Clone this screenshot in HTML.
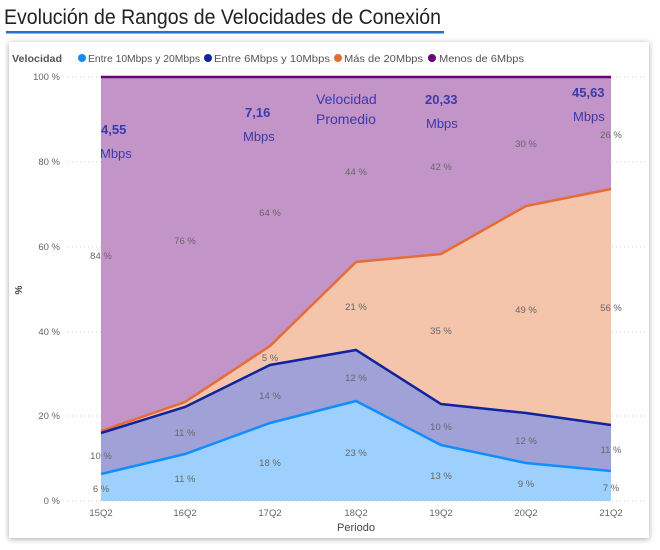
<!DOCTYPE html>
<html><head><meta charset="utf-8"><style>
body{margin:0;width:660px;height:545px;background:#fff;font-family:"Liberation Sans",sans-serif;overflow:hidden}
</style></head><body>
<svg width="660" height="545" xmlns="http://www.w3.org/2000/svg" font-family="Liberation Sans, sans-serif">
<defs><filter id="sh" x="-5%" y="-5%" width="110%" height="110%"><feDropShadow dx="0" dy="1" stdDeviation="3" flood-color="#000" flood-opacity="0.35"/></filter></defs>
<text x="4" y="24" font-size="21" fill="#222" textLength="437" lengthAdjust="spacingAndGlyphs">Evolución de Rangos de Velocidades de Conexión</text>
<rect x="6" y="31" width="438" height="2.5" fill="#2a6fc9"/>
<rect x="9" y="42" width="640" height="496" fill="#fff" filter="url(#sh)"/>
<g font-size="10" fill="#555">
<text x="12" y="62" font-weight="bold" textLength="50" lengthAdjust="spacingAndGlyphs">Velocidad</text>
<circle cx="82" cy="58" r="4" fill="#118dff"/><text x="88" y="62" textLength="112" lengthAdjust="spacingAndGlyphs">Entre 10Mbps y 20Mbps</text>
<circle cx="208" cy="58" r="4" fill="#12239e"/><text x="214" y="62" textLength="116" lengthAdjust="spacingAndGlyphs">Entre 6Mbps y 10Mbps</text>
<circle cx="338" cy="58" r="4" fill="#e66c37"/><text x="344" y="62" textLength="79" lengthAdjust="spacingAndGlyphs">Más de 20Mbps</text>
<circle cx="432" cy="58" r="4" fill="#6b007b"/><text x="439" y="62" textLength="85" lengthAdjust="spacingAndGlyphs">Menos de 6Mbps</text>
</g>
<g stroke="#ccc" stroke-dasharray="1,3">
<line x1="68" y1="77" x2="645" y2="77"/><line x1="68" y1="162" x2="645" y2="162"/><line x1="68" y1="247" x2="645" y2="247"/><line x1="68" y1="332" x2="645" y2="332"/><line x1="68" y1="416" x2="645" y2="416"/><line x1="68" y1="501" x2="645" y2="501"/>
</g>
<g font-size="9.5" fill="#666" text-anchor="end">
<text x="60" y="80">100 %</text><text x="60" y="165">80 %</text><text x="60" y="250">60 %</text><text x="60" y="335">40 %</text><text x="60" y="419">20 %</text><text x="60" y="504">0 %</text>
</g>
<text x="22" y="290" font-size="10" fill="#444" font-weight="bold" transform="rotate(-90 22 290)" text-anchor="middle">%</text>
<polygon fill="#c394c7" points="101,77 611,77 611,189 526,206 441,254 356,262 270,346 185,402 101,431"/>
<polygon fill="#f4c4ab" points="101,431 185,402 270,346 356,262 441,254 526,206 611,189 611,425 526,413 441,404 356,350 270,365 185,407 101,433"/>
<polygon fill="#a0a1d7" points="101,433 185,407 270,365 356,350 441,404 526,413 611,425 611,471 526,463 441,445 356,401 270,423 185,454 101,474"/>
<polygon fill="#9dd0fd" points="101,474 185,454 270,423 356,401 441,445 526,463 611,471 611,501 101,501"/>
<line x1="101" y1="77" x2="611" y2="77" stroke="#6b007b" stroke-width="2.5"/>
<polyline fill="none" stroke="#e66c37" stroke-width="2.5" points="101,431 185,402 270,346 356,262 441,254 526,206 611,189"/>
<polyline fill="none" stroke="#12239e" stroke-width="2.5" points="101,433 185,407 270,365 356,350 441,404 526,413 611,425"/>
<polyline fill="none" stroke="#118dff" stroke-width="2.5" points="101,474 185,454 270,423 356,401 441,445 526,463 611,471"/>
<g font-size="9.5" fill="#666" text-anchor="middle">
<text x="101" y="259">84 %</text><text x="185" y="244">76 %</text><text x="270" y="216">64 %</text><text x="356" y="175">44 %</text><text x="441" y="170">42 %</text><text x="526" y="147">30 %</text><text x="611" y="138">26 %</text>
<text x="270" y="361">5 %</text><text x="356" y="310">21 %</text><text x="441" y="334">35 %</text><text x="526" y="313">49 %</text><text x="611" y="311">56 %</text>
<text x="101" y="459">10 %</text><text x="185" y="436">11 %</text><text x="270" y="399">14 %</text><text x="356" y="381">12 %</text><text x="441" y="430">10 %</text><text x="526" y="444">12 %</text><text x="611" y="453">11 %</text>
<text x="101" y="492">6 %</text><text x="185" y="482">11 %</text><text x="270" y="466">18 %</text><text x="356" y="456">23 %</text><text x="441" y="479">13 %</text><text x="526" y="487">9 %</text><text x="611" y="491">7 %</text>
</g>
<g font-size="9.5" fill="#666" text-anchor="middle">
<text x="101" y="516">15Q2</text><text x="185" y="516">16Q2</text><text x="270" y="516">17Q2</text><text x="356" y="516">18Q2</text><text x="441" y="516">19Q2</text><text x="526" y="516">20Q2</text><text x="611" y="516">21Q2</text>
</g>
<text x="356" y="531" font-size="11" fill="#444" text-anchor="middle">Periodo</text>
<g fill="#3a3aa8" font-size="13">
<text x="101" y="134" font-weight="bold">4,55</text><text x="100" y="158">Mbps</text>
<text x="245" y="117" font-weight="bold">7,16</text><text x="243" y="141">Mbps</text>
<text x="316" y="104" font-size="14">Velocidad</text><text x="316" y="124" font-size="14">Promedio</text>
<text x="425" y="104" font-weight="bold">20,33</text><text x="426" y="128">Mbps</text>
<text x="572" y="97" font-weight="bold">45,63</text><text x="573" y="121">Mbps</text>
</g>
</svg>
</body></html>
